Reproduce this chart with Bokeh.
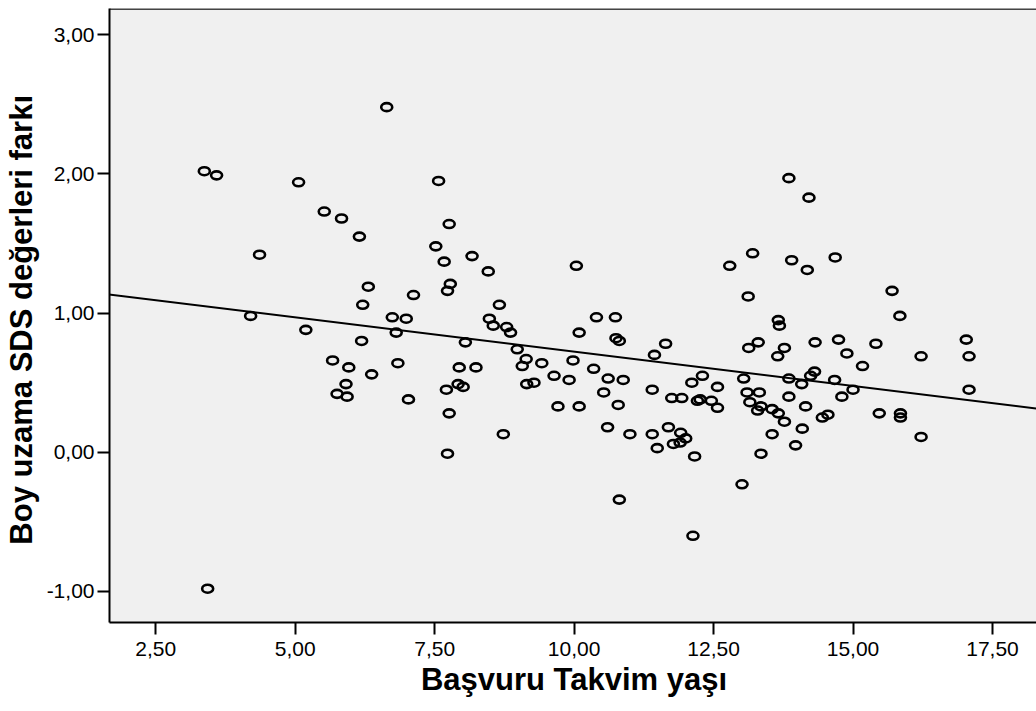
from bokeh.plotting import figure
from bokeh.models import Range1d, FixedTicker, Slope
from bokeh.embed import file_html
from bokeh.resources import INLINE

# Data
age = [3.37, 3.59, 4.20, 4.36, 5.06, 5.52, 5.83, 6.15, 6.64, 7.57, 6.31, 7.12, 6.21, 6.74, 6.99, 3.43,
       5.19, 6.81, 6.19, 5.67, 5.96, 6.84, 6.37, 5.91, 5.75, 5.93, 7.03,
       7.76, 7.52, 7.67, 8.17, 8.46, 7.78, 7.73, 10.04, 8.66, 8.48, 8.55, 8.79, 8.86, 8.05, 8.98,
       10.40, 10.74, 10.09, 10.75, 10.81, 11.64, 11.44, 12.79,
       9.14, 9.07, 9.42, 9.98, 7.94, 8.24, 9.64, 9.91, 10.35, 10.61, 10.88, 10.53, 10.79, 11.40,
       7.71, 7.92, 8.01, 9.15, 9.28, 7.76, 9.71, 10.09, 8.73, 7.73, 10.60, 11.00, 11.40, 11.49,
       11.69, 11.91, 12.00, 11.90, 11.78, 12.16, 11.75, 11.93, 12.11, 12.30, 12.57, 12.21, 12.26,
       12.46, 12.57, 13.01, 10.81, 12.13,
       13.85, 14.21, 13.20, 13.90, 14.18, 14.68, 15.70, 15.84, 13.12, 13.66, 13.68, 13.30, 13.13,
       13.77, 13.65, 14.32, 14.74, 14.89, 15.41, 15.17, 16.22, 17.03, 17.08, 17.08, 13.85, 14.08,
       14.24, 14.31, 14.67, 15.00, 14.80, 13.85, 13.04, 13.10, 13.32, 13.15, 13.35, 13.29, 13.55,
       13.66, 13.77, 14.15, 14.45, 14.55, 14.09, 13.55, 13.97, 13.35, 15.47, 15.85, 15.85, 16.22]
sds_diff = [2.02, 1.99, 0.98, 1.42, 1.94, 1.73, 1.68, 1.55, 2.48, 1.95, 1.19, 1.13, 1.06, 0.97, 0.96, -0.98,
            0.88, 0.86, 0.80, 0.66, 0.61, 0.64, 0.56, 0.49, 0.42, 0.40, 0.38,
            1.64, 1.48, 1.37, 1.41, 1.30, 1.21, 1.16, 1.34, 1.06, 0.96, 0.91, 0.90, 0.86, 0.79, 0.74,
            0.97, 0.97, 0.86, 0.82, 0.80, 0.78, 0.70, 1.34,
            0.67, 0.62, 0.64, 0.66, 0.61, 0.61, 0.55, 0.52, 0.60, 0.53, 0.52, 0.43, 0.34, 0.45,
            0.45, 0.49, 0.47, 0.49, 0.50, 0.28, 0.33, 0.33, 0.13, -0.01, 0.18, 0.13, 0.13, 0.03,
            0.18, 0.14, 0.10, 0.07, 0.06, -0.03, 0.39, 0.39, 0.50, 0.55, 0.47, 0.37, 0.38,
            0.37, 0.32, -0.23, -0.34, -0.60,
            1.97, 1.83, 1.43, 1.38, 1.31, 1.40, 1.16, 0.98, 1.12, 0.95, 0.91, 0.79, 0.75,
            0.75, 0.69, 0.79, 0.81, 0.71, 0.78, 0.62, 0.69, 0.81, 0.69, 0.45, 0.53, 0.49,
            0.55, 0.58, 0.52, 0.45, 0.40, 0.40, 0.53, 0.43, 0.43, 0.36, 0.33, 0.30, 0.31,
            0.28, 0.22, 0.33, 0.25, 0.27, 0.17, 0.13, 0.05, -0.01, 0.28, 0.28, 0.25, 0.11]

# Fit line
fit_intercept = 1.216
fit_slope = -0.0493

x_ticks = [2.5, 5.0, 7.5, 10.0, 12.5, 15.0, 17.5]
x_tick_labels = ["2,50", "5,00", "7,50", "10,00", "12,50", "15,00", "17,50"]
y_ticks = [-1.0, 0.0, 1.0, 2.0, 3.0]
y_tick_labels = ["-1,00", "0,00", "1,00", "2,00", "3,00"]

x_title = "Başvuru Takvim yaşı"
y_title = "Boy  uzama SDS değerleri farkı"

FONT = "Liberation Sans"
X0, X1 = 1.670, 18.325
Y0, Y1 = -1.223, 3.189

p = figure(width=1028, height=703, output_backend="svg", toolbar_location=None,
           x_range=Range1d(X0, X1), y_range=Range1d(Y0, Y1),
           frame_width=929, frame_height=614,
           min_border_left=99, min_border_right=0, min_border_top=8, min_border_bottom=60)

p.background_fill_color = "#f0f0f0"
p.border_fill_color = "white"
p.outline_line_color = None
p.grid.visible = False

# top border of the frame
p.line(x=[X0, X1], y=[Y1, Y1], line_color="#444444", line_width=3)

p.ellipse(x=age, y=sds_diff, width=11, height=8, width_units="screen", height_units="screen",
          fill_color=None, line_color="black", line_width=2.6)

p.add_layout(Slope(gradient=fit_slope, y_intercept=fit_intercept, line_color="black", line_width=2))

for ax, ticks, labels, title in ((p.xaxis[0], x_ticks, x_tick_labels, x_title),
                                 (p.yaxis[0], y_ticks, y_tick_labels, y_title)):
    ax.ticker = FixedTicker(ticks=ticks)
    ax.major_label_overrides = dict(zip(ticks, labels))
    ax.minor_tick_line_color = None
    ax.major_tick_in = 0
    ax.major_tick_out = 12
    ax.major_tick_line_width = 2
    ax.axis_line_width = 2
    ax.axis_line_color = "black"
    ax.major_tick_line_color = "black"
    ax.major_label_text_font = FONT
    ax.major_label_text_font_size = "21px"
    ax.major_label_text_color = "black"
    ax.axis_label = title
    ax.axis_label_text_font = FONT
    ax.axis_label_text_font_style = "bold"
    ax.axis_label_text_font_size = "31px"
    ax.axis_label_text_color = "black"

p.xaxis.major_label_standoff = 7
p.yaxis.major_label_standoff = 3
p.xaxis.axis_label_standoff = 3
p.yaxis.axis_label_standoff = 5

open("out.html", "w").write(file_html(p, INLINE))
